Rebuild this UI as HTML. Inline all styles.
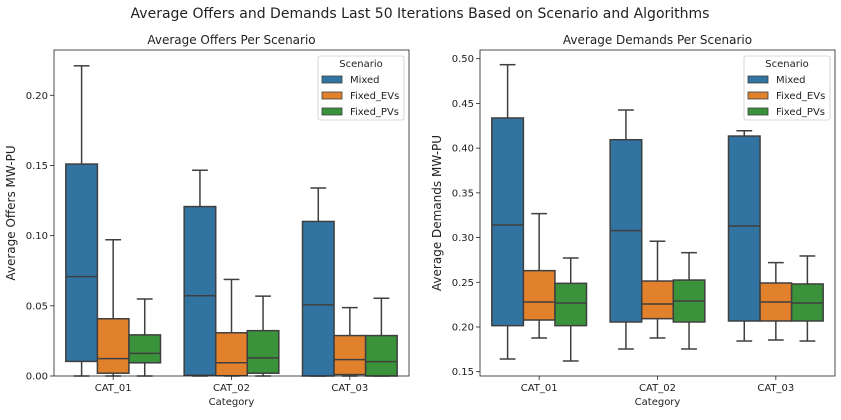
<!DOCTYPE html>
<html><head><meta charset="utf-8"><style>
body{margin:0;background:#fff;width:841px;height:415px;overflow:hidden}
svg text{font-family:"DejaVu Sans","Liberation Sans",sans-serif;fill:#222}
</style></head><body>
<svg id="fig" width="841" height="415" xmlns="http://www.w3.org/2000/svg">
<text x="420" y="18" text-anchor="middle" font-size="14">Average Offers and Demands Last 50 Iterations Based on Scenario and Algorithms</text>
</svg>
<script>
const categories = ["CAT_01","CAT_02","CAT_03"];
const scenarios = ["Mixed","Fixed_EVs","Fixed_PVs"];
// offers: [whislo,q1,med,q3,whishi] per category per scenario
const offersMixed = [[0,0.0104,0.0708,0.151,0.221],[0,0.0005,0.0572,0.1207,0.1466],[0,0,0.0507,0.1101,0.1339]];
const offersEVs = [[0,0.002,0.0124,0.0408,0.0971],[0,0.0002,0.0094,0.0308,0.0688],[0,0.001,0.0117,0.0288,0.0487]];
const offersPVs = [[0,0.0094,0.0161,0.0293,0.0549],[0,0.002,0.0129,0.0323,0.0569],[0,0,0.0102,0.0288,0.0554]];
const demandsMixed = [[0.1642,0.2015,0.314,0.4337,0.4933],[0.1754,0.2056,0.3077,0.4094,0.4426],[0.1843,0.2067,0.3129,0.4135,0.4195]];
const demandsEVs = [[0.1877,0.2078,0.2279,0.263,0.3267],[0.1877,0.2093,0.2257,0.2514,0.2959],[0.1854,0.2067,0.2279,0.2492,0.2719]];
const demandsPVs = [[0.1619,0.2015,0.2268,0.2488,0.2771],[0.1754,0.2056,0.229,0.2525,0.2831],[0.1843,0.2067,0.2268,0.2481,0.2794]];
const offerTicks = [0,0.05,0.10,0.15,0.20];
const offerTickLabels = ["0.00","0.05","0.10","0.15","0.20"];
const demandTicks = [0.15,0.20,0.25,0.30,0.35,0.40,0.45,0.50];
const demandTickLabels = ["0.15","0.20","0.25","0.30","0.35","0.40","0.45","0.50"];
const colors = ["#3274a1","#e1812c","#3a923a"];
const NS="http://www.w3.org/2000/svg";
const fig=document.getElementById('fig');
function mk(tag,attrs,parent){const e=document.createElementNS(NS,tag);for(const k in attrs)e.setAttribute(k,attrs[k]);(parent||fig).appendChild(e);return e;}
function panel(opt){
  const g=mk('g',{});
  
  
  const {x0,x1,y0,y1,vmin,vmax}=opt;
  const ys=v=>y0+(y1-y0)*(1-(v-vmin)/(vmax-vmin));
  const n=categories.length, step=(x1-x0)/n;
  const xc=i=>x0+step*(i+0.5);
  const bw=step*0.8/3;
  const series=[opt.s0,opt.s1,opt.s2];
  // ticks
  opt.ticks.forEach((t,i)=>{
    const y=ys(t);
    const l=mk('line',{x1:x0-4,x2:x0,y1:y,y2:y,stroke:'#222','stroke-width':0.8},g);
    
    
    const tx=mk('text',{x:x0-6,y:y+3.5,'text-anchor':'end','font-size':10},g);
    tx.textContent=opt.tickLabels[i];
    
    
  });
  categories.forEach((c,i)=>{
    const x=xc(i);
    mk('line',{x1:x,x2:x,y1:y1,y2:y1+4,stroke:'#222','stroke-width':0.8},g);
    const tx=mk('text',{x:x,y:y1+15,'text-anchor':'middle','font-size':10},g);
    tx.textContent=c;
    
    
    series.forEach((s,j)=>{
      const d=s[i];
      const cx=x-step*0.4+bw*(j+0.5);
      const bx=mk('g',{},g);
      
      
      const st={stroke:'#3f3f3f','stroke-width':1.5};
      mk('line',Object.assign({x1:cx,x2:cx,y1:ys(d[0]),y2:ys(d[1])},st),bx);
      mk('line',Object.assign({x1:cx,x2:cx,y1:ys(d[3]),y2:ys(d[4])},st),bx);
      mk('line',Object.assign({x1:cx-bw/4,x2:cx+bw/4,y1:ys(d[0]),y2:ys(d[0])},st),bx);
      mk('line',Object.assign({x1:cx-bw/4,x2:cx+bw/4,y1:ys(d[4]),y2:ys(d[4])},st),bx);
      mk('rect',Object.assign({x:cx-bw/2,y:ys(d[3]),width:bw,height:Math.max(0.5,ys(d[1])-ys(d[3])),fill:colors[j]},st),bx);
      mk('line',Object.assign({x1:cx-bw/2,x2:cx+bw/2,y1:ys(d[2]),y2:ys(d[2])},st),bx);
    });
  });
  mk('rect',{x:x0,y:y0,width:x1-x0,height:y1-y0,fill:'none',stroke:'#222','stroke-width':0.8},g);
  const tt=mk('text',{x:(x0+x1)/2,y:y0-6,'text-anchor':'middle','font-size':12},g);
  tt.textContent=opt.title;
  
  
  const xl=mk('text',{x:(x0+x1)/2,y:y1+29,'text-anchor':'middle','font-size':10},g);
  xl.textContent='Category';
  
  
  const ym=(y0+y1)/2;
  const yl=mk('text',{x:opt.ylx,y:ym,'text-anchor':'middle','font-size':12,transform:`rotate(-90 ${opt.ylx} ${ym})`},g);
  yl.textContent=opt.ylabel;
  
  
  // legend
  const lg=mk('g',{},g);
  
  
  const lx=opt.legX;
  mk('rect',{x:lx,y:56,width:86,height:64,rx:2,fill:'#fff',stroke:'#ccc','stroke-width':0.8},lg);
  const lt=mk('text',{x:lx+43,y:67,'text-anchor':'middle','font-size':10},lg);
  lt.textContent='Scenario';
  scenarios.forEach((s,j)=>{
    const e=mk('g',{},lg);
    
    
    mk('rect',{x:lx+4,y:76+j*16,width:20,height:7,fill:colors[j],stroke:'#3f3f3f','stroke-width':0.8},e);
    const t=mk('text',{x:lx+32,y:83+j*16,'font-size':10},e);
    t.textContent=s;
  });
}
panel({name:'offers-chart',x0:54,x1:409,y0:50,y1:376,vmin:0,vmax:0.2*(361.7-50)/(361.7-93.3),
  s0:offersMixed,s1:offersEVs,s2:offersPVs,ticks:offerTicks,tickLabels:offerTickLabels,
  title:'Average Offers Per Scenario',ylabel:'Average Offers MW-PU',ylx:15,legX:318});
(function(){
  const ppu=(371.7-58.7)/0.35;
  const vmax=0.5+(58.7-50)/ppu, vmin=0.15-(376-371.7)/ppu;
  panel({name:'demands-chart',x0:480,x1:835,y0:50,y1:376,vmin:vmin,vmax:vmax,
    s0:demandsMixed,s1:demandsEVs,s2:demandsPVs,ticks:demandTicks,tickLabels:demandTickLabels,
    title:'Average Demands Per Scenario',ylabel:'Average Demands MW-PU',ylx:441,legX:744});
})();
</script>
</body></html>
